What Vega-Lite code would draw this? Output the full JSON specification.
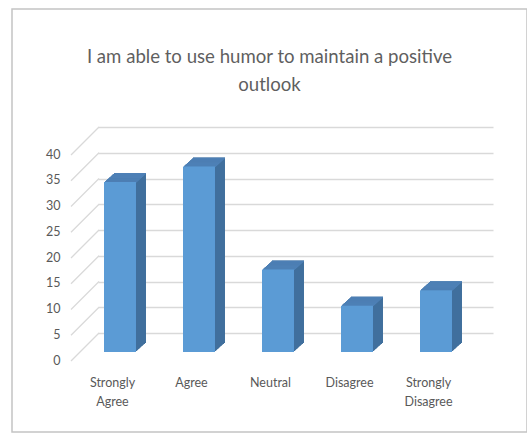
{
  "$schema": "https://vega.github.io/schema/vega-lite/v6.json",
  "width": 515,
  "height": 423,
  "autosize": {"type": "none"},
  "padding": {"left": 12, "top": 9, "right": 0, "bottom": 2},
  "background": "white",
  "config": {
    "view": {"stroke": "#c4c4c4", "strokeWidth": 1.5},
    "font": "Lato"
  },
  "title": {
    "text": ["I am able to use humor to maintain a positive", "outlook"],
    "font": "Lato",
    "fontSize": 18.6,
    "fontWeight": "normal",
    "color": "#5f5f5f",
    "anchor": "middle",
    "frame": "group",
    "baseline": "top",
    "offset": -86,
    "lineHeight": 28
  },
  "datasets": {
    "responses": [
      {"response": "Strongly Agree", "count": 33},
      {"response": "Agree", "count": 36},
      {"response": "Neutral", "count": 16},
      {"response": "Disagree", "count": 9},
      {"response": "Strongly Disagree", "count": 12}
    ],
    "levels": [
      {"level": 0}, {"level": 5}, {"level": 10}, {"level": 15}, {"level": 20},
      {"level": 25}, {"level": 30}, {"level": 35}, {"level": 40}
    ]
  },
  "data": {"name": "responses"},
  "encoding": {
    "x": {
      "field": "response",
      "type": "nominal",
      "sort": null,
      "scale": {"range": [86, 481], "paddingInner": 0.595, "paddingOuter": 0.2975},
      "axis": {
        "title": null,
        "orient": "bottom",
        "offset": -58,
        "domain": false,
        "ticks": false,
        "grid": false,
        "labelAngle": 0,
        "labelPadding": 2,
        "labelOffset": -25,
        "labelBaseline": "top",
        "labelExpr": "split(datum.label, ' ')",
        "labelLineHeight": 19,
        "labelFont": "Lato",
        "labelFontSize": 12.5,
        "labelColor": "#595959"
      }
    },
    "y": {
      "field": "count",
      "type": "quantitative",
      "scale": {"domain": [0, 40], "range": [324, 118], "nice": false},
      "axis": {
        "title": null,
        "values": [0, 5, 10, 15, 20, 25, 30, 35, 40],
        "offset": -49,
        "domain": false,
        "ticks": false,
        "labelPadding": 1,
        "labelOffset": 27,
        "grid": true,
        "gridColor": "#d9d9d9",
        "gridWidth": 1.3,
        "labelFont": "Lato",
        "labelFontSize": 12.5,
        "labelColor": "#595959"
      }
    }
  },
  "layer": [
    {
      "data": {"name": "levels"},
      "mark": {"type": "rule", "color": "#d9d9d9", "strokeWidth": 1.3, "xOffset": -38.5, "x2Offset": -66.5, "y2Offset": 28},
      "encoding": {
        "x": {"datum": "Strongly Agree", "type": "nominal"},
        "x2": {"datum": "Strongly Agree"},
        "y": {"field": "level", "type": "quantitative"},
        "y2": {"field": "level"}
      }
    },
    {"mark": {"type": "bar", "color": "#41709d", "xOffset": -7.5, "x2Offset": -7.5, "yOffset": 10, "y2Offset": 10}},
    {"mark": {"type": "bar", "color": "#41709d", "xOffset": -8.5, "x2Offset": -8.5, "yOffset": 10.9, "y2Offset": 10.9}},
    {"mark": {"type": "bar", "color": "#41709d", "xOffset": -9.5, "x2Offset": -9.5, "yOffset": 11.8, "y2Offset": 11.8}},
    {"mark": {"type": "bar", "color": "#41709d", "xOffset": -10.5, "x2Offset": -10.5, "yOffset": 12.7, "y2Offset": 12.7}},
    {"mark": {"type": "bar", "color": "#41709d", "xOffset": -11.5, "x2Offset": -11.5, "yOffset": 13.6, "y2Offset": 13.6}},
    {"mark": {"type": "bar", "color": "#41709d", "xOffset": -12.5, "x2Offset": -12.5, "yOffset": 14.5, "y2Offset": 14.5}},
    {"mark": {"type": "bar", "color": "#41709d", "xOffset": -13.5, "x2Offset": -13.5, "yOffset": 15.4, "y2Offset": 15.4}},
    {"mark": {"type": "bar", "color": "#41709d", "xOffset": -14.5, "x2Offset": -14.5, "yOffset": 16.3, "y2Offset": 16.3}},
    {"mark": {"type": "bar", "color": "#41709d", "xOffset": -15.5, "x2Offset": -15.5, "yOffset": 17.2, "y2Offset": 17.2}},
    {"mark": {"type": "bar", "color": "#41709d", "xOffset": -16.5, "x2Offset": -16.5, "yOffset": 18.1, "y2Offset": 18.1}},
    {"mark": {"type": "bar", "color": "#4e80b6", "xOffset": -7.5, "x2Offset": -7.5, "yOffset": 10, "y2Offset": 11.3}, "encoding": {"y2": {"field": "count"}}},
    {"mark": {"type": "bar", "color": "#4e80b6", "xOffset": -8.5, "x2Offset": -8.5, "yOffset": 10.9, "y2Offset": 12.2}, "encoding": {"y2": {"field": "count"}}},
    {"mark": {"type": "bar", "color": "#4e80b6", "xOffset": -9.5, "x2Offset": -9.5, "yOffset": 11.8, "y2Offset": 13.1}, "encoding": {"y2": {"field": "count"}}},
    {"mark": {"type": "bar", "color": "#4e80b6", "xOffset": -10.5, "x2Offset": -10.5, "yOffset": 12.7, "y2Offset": 14}, "encoding": {"y2": {"field": "count"}}},
    {"mark": {"type": "bar", "color": "#4e80b6", "xOffset": -11.5, "x2Offset": -11.5, "yOffset": 13.6, "y2Offset": 14.9}, "encoding": {"y2": {"field": "count"}}},
    {"mark": {"type": "bar", "color": "#4e80b6", "xOffset": -12.5, "x2Offset": -12.5, "yOffset": 14.5, "y2Offset": 15.8}, "encoding": {"y2": {"field": "count"}}},
    {"mark": {"type": "bar", "color": "#4e80b6", "xOffset": -13.5, "x2Offset": -13.5, "yOffset": 15.4, "y2Offset": 16.7}, "encoding": {"y2": {"field": "count"}}},
    {"mark": {"type": "bar", "color": "#4e80b6", "xOffset": -14.5, "x2Offset": -14.5, "yOffset": 16.3, "y2Offset": 17.6}, "encoding": {"y2": {"field": "count"}}},
    {"mark": {"type": "bar", "color": "#4e80b6", "xOffset": -15.5, "x2Offset": -15.5, "yOffset": 17.2, "y2Offset": 18.5}, "encoding": {"y2": {"field": "count"}}},
    {"mark": {"type": "bar", "color": "#4e80b6", "xOffset": -16.5, "x2Offset": -16.5, "yOffset": 18.1, "y2Offset": 19.4}, "encoding": {"y2": {"field": "count"}}},
    {"mark": {"type": "bar", "color": "#5b9bd5", "xOffset": -17.5, "x2Offset": -17.5, "yOffset": 19, "y2Offset": 19}}
  ]
}
